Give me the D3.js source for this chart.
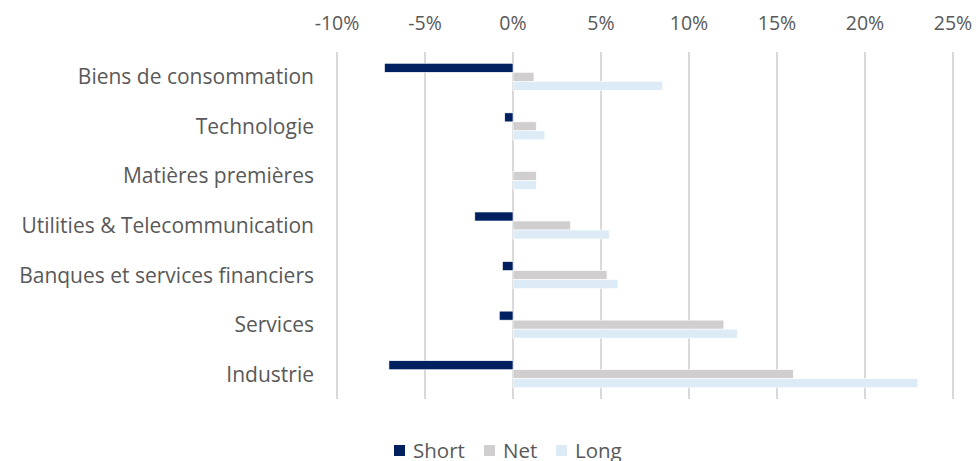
<!DOCTYPE html>
<html>
<head>
<meta charset="utf-8">
<title>Short / Net / Long par secteur</title>
<script src="https://cdn.jsdelivr.net/npm/d3@7"></script>
<style>
    body { margin: 0; background: #fff; }
    text { font-family: "Open Sans", "Liberation Sans", sans-serif; fill: #595959; }
    .grid line { stroke: #d9d9d9; stroke-width: 2px; }
</style>
</head>
<body>
<script>
    var categories = ["Biens de consommation", "Technologie", "Matières premières",
        "Utilities & Telecommunication", "Banques et services financiers", "Services", "Industrie"];
    var series = ["Short", "Net", "Long"];
    var shortVals = [-7.3, -0.47, 0, -2.17, -0.6, -0.78, -7.05];
    var netVals = [1.19, 1.32, 1.32, 3.27, 5.34, 11.98, 15.93];
    var longVals = [8.5, 1.81, 1.32, 5.47, 5.96, 12.74, 23.0];
    var ticks = [-10, -5, 0, 5, 10, 15, 20, 25];
    var colors = ["#002060", "#d0cece", "#ddebf7"];

    var width = 979, height = 461;
    var margin = {top: 52, right: 25, bottom: 62, left: 337};

    var svg = d3.select("body").append("svg")
        .attr("width", width)
        .attr("height", height);

    var x = d3.scaleLinear().domain([-10, 25]).range([margin.left, width - margin.right - 1]);
    var y = d3.scaleBand().domain(categories).range([margin.top, height - margin.bottom]);
    var inner = d3.scaleBand().domain(series).range([0, 27]);

    // gridlines
    svg.append("g").attr("class", "grid")
        .selectAll("line").data(ticks).enter().append("line")
        .attr("x1", d => x(d)).attr("x2", d => x(d))
        .attr("y1", margin.top).attr("y2", height - margin.bottom);

    // top axis labels
    svg.append("g").selectAll("text").data(ticks).enter().append("text")
        .attr("x", d => x(d)).attr("y", 30)
        .attr("text-anchor", "middle")
        .style("font-size", "19.5px")
        .text(d => d + "%");

    // category labels
    svg.append("g").selectAll("text").data(categories).enter().append("text")
        .attr("x", 314).attr("y", d => y(d) + y.bandwidth() / 2 + 7.5)
        .attr("text-anchor", "end")
        .style("font-size", "21px")
        .text(d => d);

    var rows = categories.map((c, i) => ({cat: c, vals: [shortVals[i], netVals[i], longVals[i]]}));
    var off = (y.bandwidth() - 27) / 2;

    var grp = svg.append("g").selectAll("g").data(rows).enter().append("g")
        .attr("transform", d => "translate(0," + (y(d.cat) + off) + ")");

    grp.selectAll("rect").data(d => d.vals.map((v, j) => ({s: series[j], v: v, j: j})))
        .enter().append("rect")
        .filter(d => d.v !== 0)
        .attr("x", d => x(Math.min(0, d.v)))
        .attr("width", d => Math.abs(x(d.v) - x(0)))
        .attr("y", d => inner(d.s))
        .attr("height", inner.bandwidth())
        .attr("fill", d => colors[d.j])
        .attr("stroke", "#fff")
        .attr("stroke-width", 0.6);

    // legend
    var legendX = [394, 484, 556];
    var lg = svg.append("g").selectAll("g").data(series).enter().append("g")
        .attr("transform", (d, i) => "translate(" + legendX[i] + ",445)");
    lg.append("rect").attr("width", 11).attr("height", 11).attr("fill", (d, i) => colors[i]);
    lg.append("text").attr("x", 19).attr("y", 12.5)
        .style("font-size", "20.5px")
        .text(d => d);
</script>
</body>
</html>
